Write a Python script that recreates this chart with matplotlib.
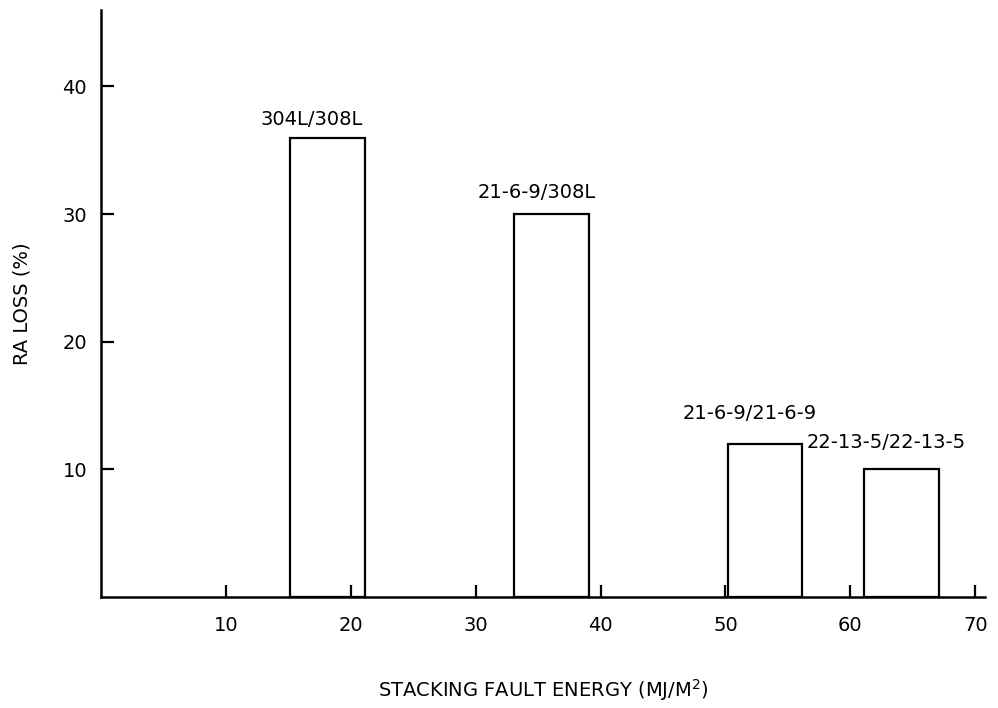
import matplotlib
matplotlib.use("Agg")
import matplotlib.pyplot as plt

# values
pairs = ["304L/308L", "21-6-9/308L", "21-6-9/21-6-9", "22-13-5/22-13-5"]
sfe_left = [15.1, 33.1, 50.2, 61.1]      # left edge of each bar (MJ/M^2)
sfe_width = [6.0, 6.0, 5.9, 6.0]
ra_loss = [36, 30, 12, 10]                # RA loss (%)
xticks = [10, 20, 30, 40, 50, 60, 70]
yticks = [10, 20, 30, 40]


def main():
    plt.rcParams['font.family'] = ['DejaVu Sans']
    plt.rcParams['mathtext.default'] = 'regular'

    fig = plt.figure(figsize=(9.98, 7.08), dpi=100)
    ax = fig.add_axes([0.1012, 0.157, 0.886, 0.829])

    ax.bar(sfe_left, ra_loss, width=sfe_width, align='edge',
           facecolor='white', edgecolor='black', linewidth=1.6)

    # labels sit a bit left of the bar centres, like the original
    label_dy = [1.4, 1.7, 2.4, 2.1]
    for left, w, h, name, dy in zip(sfe_left, sfe_width, ra_loss, pairs, label_dy):
        ax.text(left + w / 2 - 1.2, h + dy, name, ha='center', va='center',
                fontsize=14)

    ax.set_xlim(0, 70.8)
    ax.set_ylim(0, 46)
    ax.set_xticks(xticks)
    ax.set_yticks(yticks)
    ax.tick_params(direction='in', length=9, width=1.6, labelsize=14)
    ax.tick_params(axis='x', pad=14)
    ax.tick_params(axis='y', pad=10)

    for side in ['top', 'right']:
        ax.spines[side].set_visible(False)
    for side in ['left', 'bottom']:
        ax.spines[side].set_linewidth(1.8)

    ax.set_ylabel('RA LOSS (%)', fontsize=14, labelpad=22)
    ax.set_xlabel(r'STACKING FAULT ENERGY (MJ/M$^{2}$)', fontsize=14, labelpad=30)

    fig.savefig('out.png', dpi=100)


if __name__ == "__main__":
    main()
